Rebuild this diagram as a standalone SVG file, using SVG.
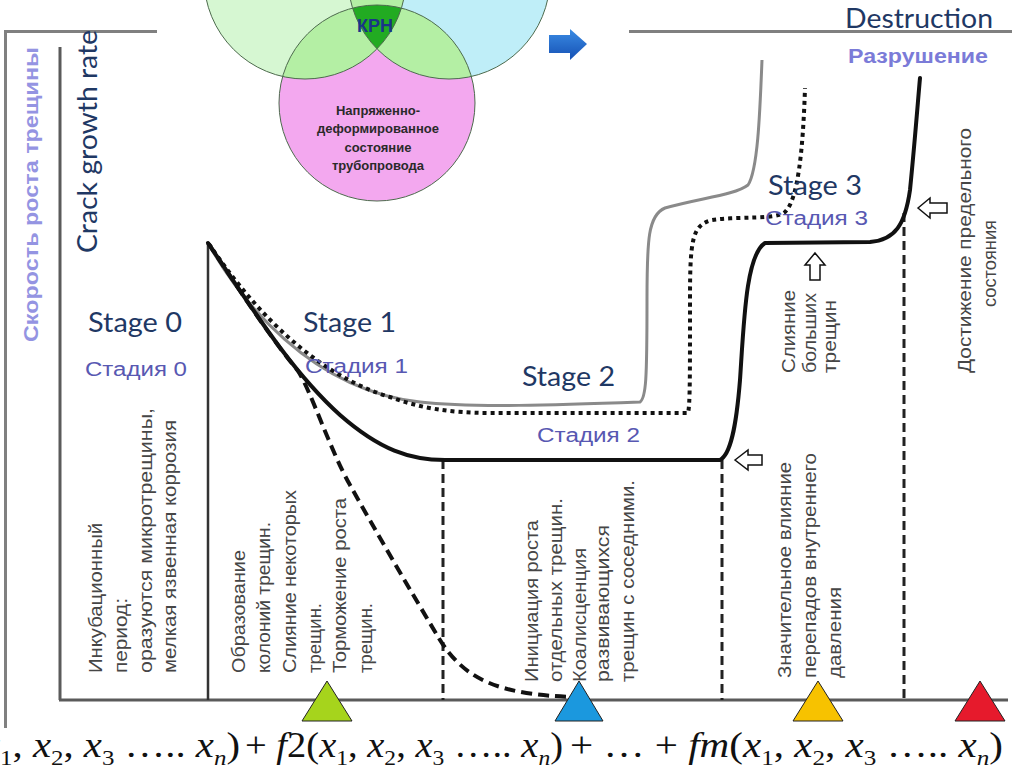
<svg xmlns="http://www.w3.org/2000/svg" width="1012" height="782" viewBox="0 0 1012 782">
<style>
.en{font-family:Lato,"Liberation Sans",sans-serif;fill:#1f3864}
.ru{font-family:"Liberation Sans",Arial,sans-serif;fill:#5858b2}
.col{font-family:"Liberation Sans",Arial,sans-serif;font-size:19px;fill:#464646}
.frame{stroke:#808080;stroke-width:3;fill:none}
.axis{stroke:#5a5a5a;stroke-width:3;fill:none}
.curve{fill:none;stroke:#111;stroke-width:4;stroke-linecap:round;stroke-linejoin:round}
.gray{fill:none;stroke:#8a8a8a;stroke-width:3}
.dotted{fill:none;stroke:#111;stroke-width:4;stroke-dasharray:4 4}
.dashed{fill:none;stroke:#111;stroke-width:4;stroke-dasharray:11 6}
.sep{stroke:#222;stroke-width:3;stroke-dasharray:9 5}
.hollow{fill:#fff;stroke:#111;stroke-width:1.5}
.tri{stroke:#222;stroke-width:1}
.vt{font-family:"Liberation Sans",Arial,sans-serif;font-weight:bold;fill:#2a2a2a;text-anchor:middle}
.fm{font-family:"Liberation Serif","Times New Roman",serif;font-size:36px;fill:#111}
.it{font-style:italic}
.sub{font-size:22px}
</style>
<defs>
<clipPath id="cA"><circle cx="305" cy="-22" r="101"/></clipPath>
<clipPath id="cB"><circle cx="449" cy="-22" r="101"/></clipPath>
<linearGradient id="blue" x1="0" y1="0" x2="0" y2="1"><stop offset="0" stop-color="#3b8ce4"/><stop offset="1" stop-color="#1550b4"/></linearGradient>
</defs>
<rect width="1012" height="782" fill="#fff"/>

<g id="frame">
<line class="frame" x1="4" y1="31.5" x2="157" y2="31.5"/>
<line class="frame" x1="5.5" y1="31" x2="5.5" y2="728"/>
<line class="frame" x1="629" y1="31.5" x2="1012" y2="31.5"/>
<line class="axis" x1="60" y1="47" x2="60" y2="700"/>
<line class="axis" x1="59" y1="700" x2="1008" y2="700"/>
</g>

<g id="venn">
<circle cx="377" cy="103" r="98" fill="#f3a8ef"/>
<circle cx="305" cy="-22" r="101" fill="#d6f7d2"/>
<circle cx="449" cy="-22" r="101" fill="#bfeef8"/>
<g clip-path="url(#cA)"><circle cx="449" cy="-22" r="101" fill="#b4efa4"/></g>
<g clip-path="url(#cA)"><circle cx="377" cy="103" r="98" fill="#b4efa4"/></g>
<g clip-path="url(#cB)"><circle cx="377" cy="103" r="98" fill="#b4efa4"/></g>
<g clip-path="url(#cA)"><g clip-path="url(#cB)"><circle cx="377" cy="103" r="98" fill="#22ab22"/></g></g>
<g fill="none" stroke="#4d6a4d" stroke-width="1">
<circle cx="377" cy="103" r="98"/>
<circle cx="305" cy="-22" r="101"/>
<circle cx="449" cy="-22" r="101"/>
</g>
<text class="vt" x="375" y="32" font-size="19" textLength="36" lengthAdjust="spacingAndGlyphs" style="fill:#1a3488">КРН</text>
<text class="vt" x="378" y="115" font-size="13">Напряженно-</text>
<text class="vt" x="378" y="133" font-size="13">деформированное</text>
<text class="vt" x="378" y="152" font-size="13">состояние</text>
<text class="vt" x="378" y="170" font-size="13">трубопровода</text>
</g>

<g id="blue-arrow">
<polygon points="549,35 570,35 570,29 587,44 570,60 570,53 549,53" fill="url(#blue)"/>
</g>

<g id="axis-labels">
<text class="ru" transform="translate(38,342) rotate(-90)" font-size="21" font-weight="bold" style="fill:#9494e2" textLength="295" lengthAdjust="spacingAndGlyphs">Скорость роста трещины</text>
<text class="en" transform="translate(97,253) rotate(-90)" font-size="26" textLength="223" lengthAdjust="spacingAndGlyphs">Crack growth rate</text>
</g>

<g id="separators">
<line x1="208" y1="243" x2="208" y2="700" stroke="#333" stroke-width="2.5"/>
<line class="sep" x1="443" y1="460" x2="443" y2="700"/>
<line class="sep" x1="722" y1="460" x2="722" y2="700"/>
<line class="sep" x1="904" y1="213" x2="904" y2="700"/>
</g>

<g id="connectors">
<path class="gray" d="M208,243 C240,300 310,390 420,402 C470,408 560,405 640,402 C646,398 647,380 647,300 C647,240 648,215 665,208 C700,198 735,195 748,185 C758,170 760,110 762,60"/>
<path class="dotted" d="M209,244 C244,296 306,372 390,397 C420,408 450,413 490,413 L688,413 C690,405 690,380 690,300 C690,240 692,225 712,220 C740,216 775,220 785,212 C798,200 803,150 805,88"/>
<path class="dashed" d="M208,243 C237.4,286.4 265.8,331.5 297.4,370.2 C310,388 330,450 350,485 C375,530 410,590 440,640 C465,680 500,695 575,697"/>
<path class="curve" d="M208,243 C250,305 290,370 340,415 C380,450 410,460 445,460 L720,460 C730,455 736,430 740,380 C744,320 746,255 765,243 L870,242 C895,240 905,225 910,190 C915,140 918,100 920,78"/>
</g>

<g id="hollow-arrows">
<polygon class="hollow" points="735,460 748,450 748,455 762,455 762,465 748,465 748,470"/>
<polygon class="hollow" points="918,208 930,198 930,203 947,203 947,213 930,213 930,218"/>
<polygon class="hollow" points="815,253 825,265 820,265 820,280 810,280 810,265 805,265"/>
</g>

<g id="stage-labels">
<text class="en" x="88" y="332" font-size="26" textLength="94" lengthAdjust="spacingAndGlyphs">Stage 0</text>
<text class="ru" x="85" y="376" font-size="20" textLength="102" lengthAdjust="spacingAndGlyphs">Стадия 0</text>
<text class="en" x="303" y="332" font-size="26" textLength="93" lengthAdjust="spacingAndGlyphs">Stage 1</text>
<text class="ru" x="305" y="373" font-size="20" textLength="103" lengthAdjust="spacingAndGlyphs">Стадия 1</text>
<text class="en" x="522" y="386" font-size="26" textLength="93" lengthAdjust="spacingAndGlyphs">Stage 2</text>
<text class="ru" x="537" y="442" font-size="20" textLength="103" lengthAdjust="spacingAndGlyphs">Стадия 2</text>
<text class="en" x="768" y="195" font-size="26" textLength="94" lengthAdjust="spacingAndGlyphs">Stage 3</text>
<text class="ru" x="765" y="225" font-size="20" textLength="103" lengthAdjust="spacingAndGlyphs">Стадия 3</text>
<text class="en" x="845" y="28" font-size="26" textLength="148" lengthAdjust="spacingAndGlyphs">Destruction</text>
<text class="ru" x="848" y="63" font-size="21" font-weight="bold" style="fill:#7b7bd8" textLength="140" lengthAdjust="spacingAndGlyphs">Разрушение</text>
</g>

<g id="col0">
<text class="col" transform="translate(102,673) rotate(-90)" textLength="150" lengthAdjust="spacingAndGlyphs">Инкубационный</text>
<text class="col" transform="translate(127,673) rotate(-90)" textLength="75" lengthAdjust="spacingAndGlyphs">период:</text>
<text class="col" transform="translate(152,673) rotate(-90)" textLength="265" lengthAdjust="spacingAndGlyphs">оразуются микротрещины,</text>
<text class="col" transform="translate(176,673) rotate(-90)" textLength="253" lengthAdjust="spacingAndGlyphs">мелкая язвенная коррозия</text>
</g>
<g id="col1">
<text class="col" transform="translate(245,673) rotate(-90)" textLength="123" lengthAdjust="spacingAndGlyphs">Образование</text>
<text class="col" transform="translate(270,673) rotate(-90)" textLength="151" lengthAdjust="spacingAndGlyphs">колоний трещин.</text>
<text class="col" transform="translate(296,673) rotate(-90)" textLength="183" lengthAdjust="spacingAndGlyphs">Слияние некоторых</text>
<text class="col" transform="translate(321,673) rotate(-90)" textLength="70" lengthAdjust="spacingAndGlyphs">трещин.</text>
<text class="col" transform="translate(346,673) rotate(-90)" textLength="175" lengthAdjust="spacingAndGlyphs">Торможение роста</text>
<text class="col" transform="translate(372,673) rotate(-90)" textLength="70" lengthAdjust="spacingAndGlyphs">трещин.</text>
</g>
<g id="col2">
<text class="col" transform="translate(538,682) rotate(-90)" textLength="162" lengthAdjust="spacingAndGlyphs">Инициация роста</text>
<text class="col" transform="translate(562,682) rotate(-90)" textLength="184" lengthAdjust="spacingAndGlyphs">отдельных трещин.</text>
<text class="col" transform="translate(586,682) rotate(-90)" textLength="134" lengthAdjust="spacingAndGlyphs">Коалисценция</text>
<text class="col" transform="translate(609,682) rotate(-90)" textLength="157" lengthAdjust="spacingAndGlyphs">развивающихся</text>
<text class="col" transform="translate(634,682) rotate(-90)" textLength="202" lengthAdjust="spacingAndGlyphs">трещин с соседними.</text>
</g>
<g id="col3">
<text class="col" transform="translate(791,678) rotate(-90)" textLength="216" lengthAdjust="spacingAndGlyphs">Значительное влияние</text>
<text class="col" transform="translate(816,678) rotate(-90)" textLength="225" lengthAdjust="spacingAndGlyphs">перепадов внутреннего</text>
<text class="col" transform="translate(841,678) rotate(-90)" textLength="91" lengthAdjust="spacingAndGlyphs">давления</text>
</g>
<g id="col4">
<text class="col" font-size="18" transform="translate(795,373) rotate(-90)" textLength="83" lengthAdjust="spacingAndGlyphs">Слияние</text>
<text class="col" font-size="18" transform="translate(816,373) rotate(-90)" textLength="80" lengthAdjust="spacingAndGlyphs">больших</text>
<text class="col" font-size="18" transform="translate(836,373) rotate(-90)" textLength="73" lengthAdjust="spacingAndGlyphs">трещин</text>
<text class="col" font-size="18" transform="translate(971,373) rotate(-90)" textLength="245" lengthAdjust="spacingAndGlyphs">Достижение предельного</text>
<text class="col" font-size="18" transform="translate(996,307) rotate(-90)" textLength="87" lengthAdjust="spacingAndGlyphs">состояния</text>
</g>

<g id="triangles">
<polygon class="tri" points="302,721 327,681 352,721" fill="#a6d41c"/>
<polygon class="tri" points="555,721 579,681 603,721" fill="#1b98de"/>
<polygon class="tri" points="793,721 818,681 843,721" fill="#f7c200"/>
<polygon class="tri" points="955,721 980,681 1005,721" fill="#e61a2c"/>
</g>

<g id="formula">
<text class="fm" x="-18" y="757" textLength="258" lengthAdjust="spacingAndGlyphs"><tspan class="it">x</tspan><tspan class="sub" dy="8">1</tspan><tspan dy="-8">, </tspan><tspan class="it">x</tspan><tspan class="sub" dy="8">2</tspan><tspan dy="-8">, </tspan><tspan class="it">x</tspan><tspan class="sub" dy="8">3</tspan><tspan dy="-8"> ….. </tspan><tspan class="it">x</tspan><tspan class="sub it" dy="8">n</tspan><tspan dy="-8">)</tspan></text>
<text class="fm" x="245" y="757" textLength="318" lengthAdjust="spacingAndGlyphs">+ <tspan class="it">f</tspan>2(<tspan class="it">x</tspan><tspan class="sub" dy="8">1</tspan><tspan dy="-8">, </tspan><tspan class="it">x</tspan><tspan class="sub" dy="8">2</tspan><tspan dy="-8">, </tspan><tspan class="it">x</tspan><tspan class="sub" dy="8">3</tspan><tspan dy="-8"> ….. </tspan><tspan class="it">x</tspan><tspan class="sub it" dy="8">n</tspan><tspan dy="-8">)</tspan></text>
<text class="fm" x="570" y="757" textLength="433" lengthAdjust="spacingAndGlyphs">+ … + <tspan class="it">fm</tspan>(<tspan class="it">x</tspan><tspan class="sub" dy="8">1</tspan><tspan dy="-8">, </tspan><tspan class="it">x</tspan><tspan class="sub" dy="8">2</tspan><tspan dy="-8">, </tspan><tspan class="it">x</tspan><tspan class="sub" dy="8">3</tspan><tspan dy="-8"> ….. </tspan><tspan class="it">x</tspan><tspan class="sub it" dy="8">n</tspan><tspan dy="-8">)</tspan></text>
</g>
</svg>
